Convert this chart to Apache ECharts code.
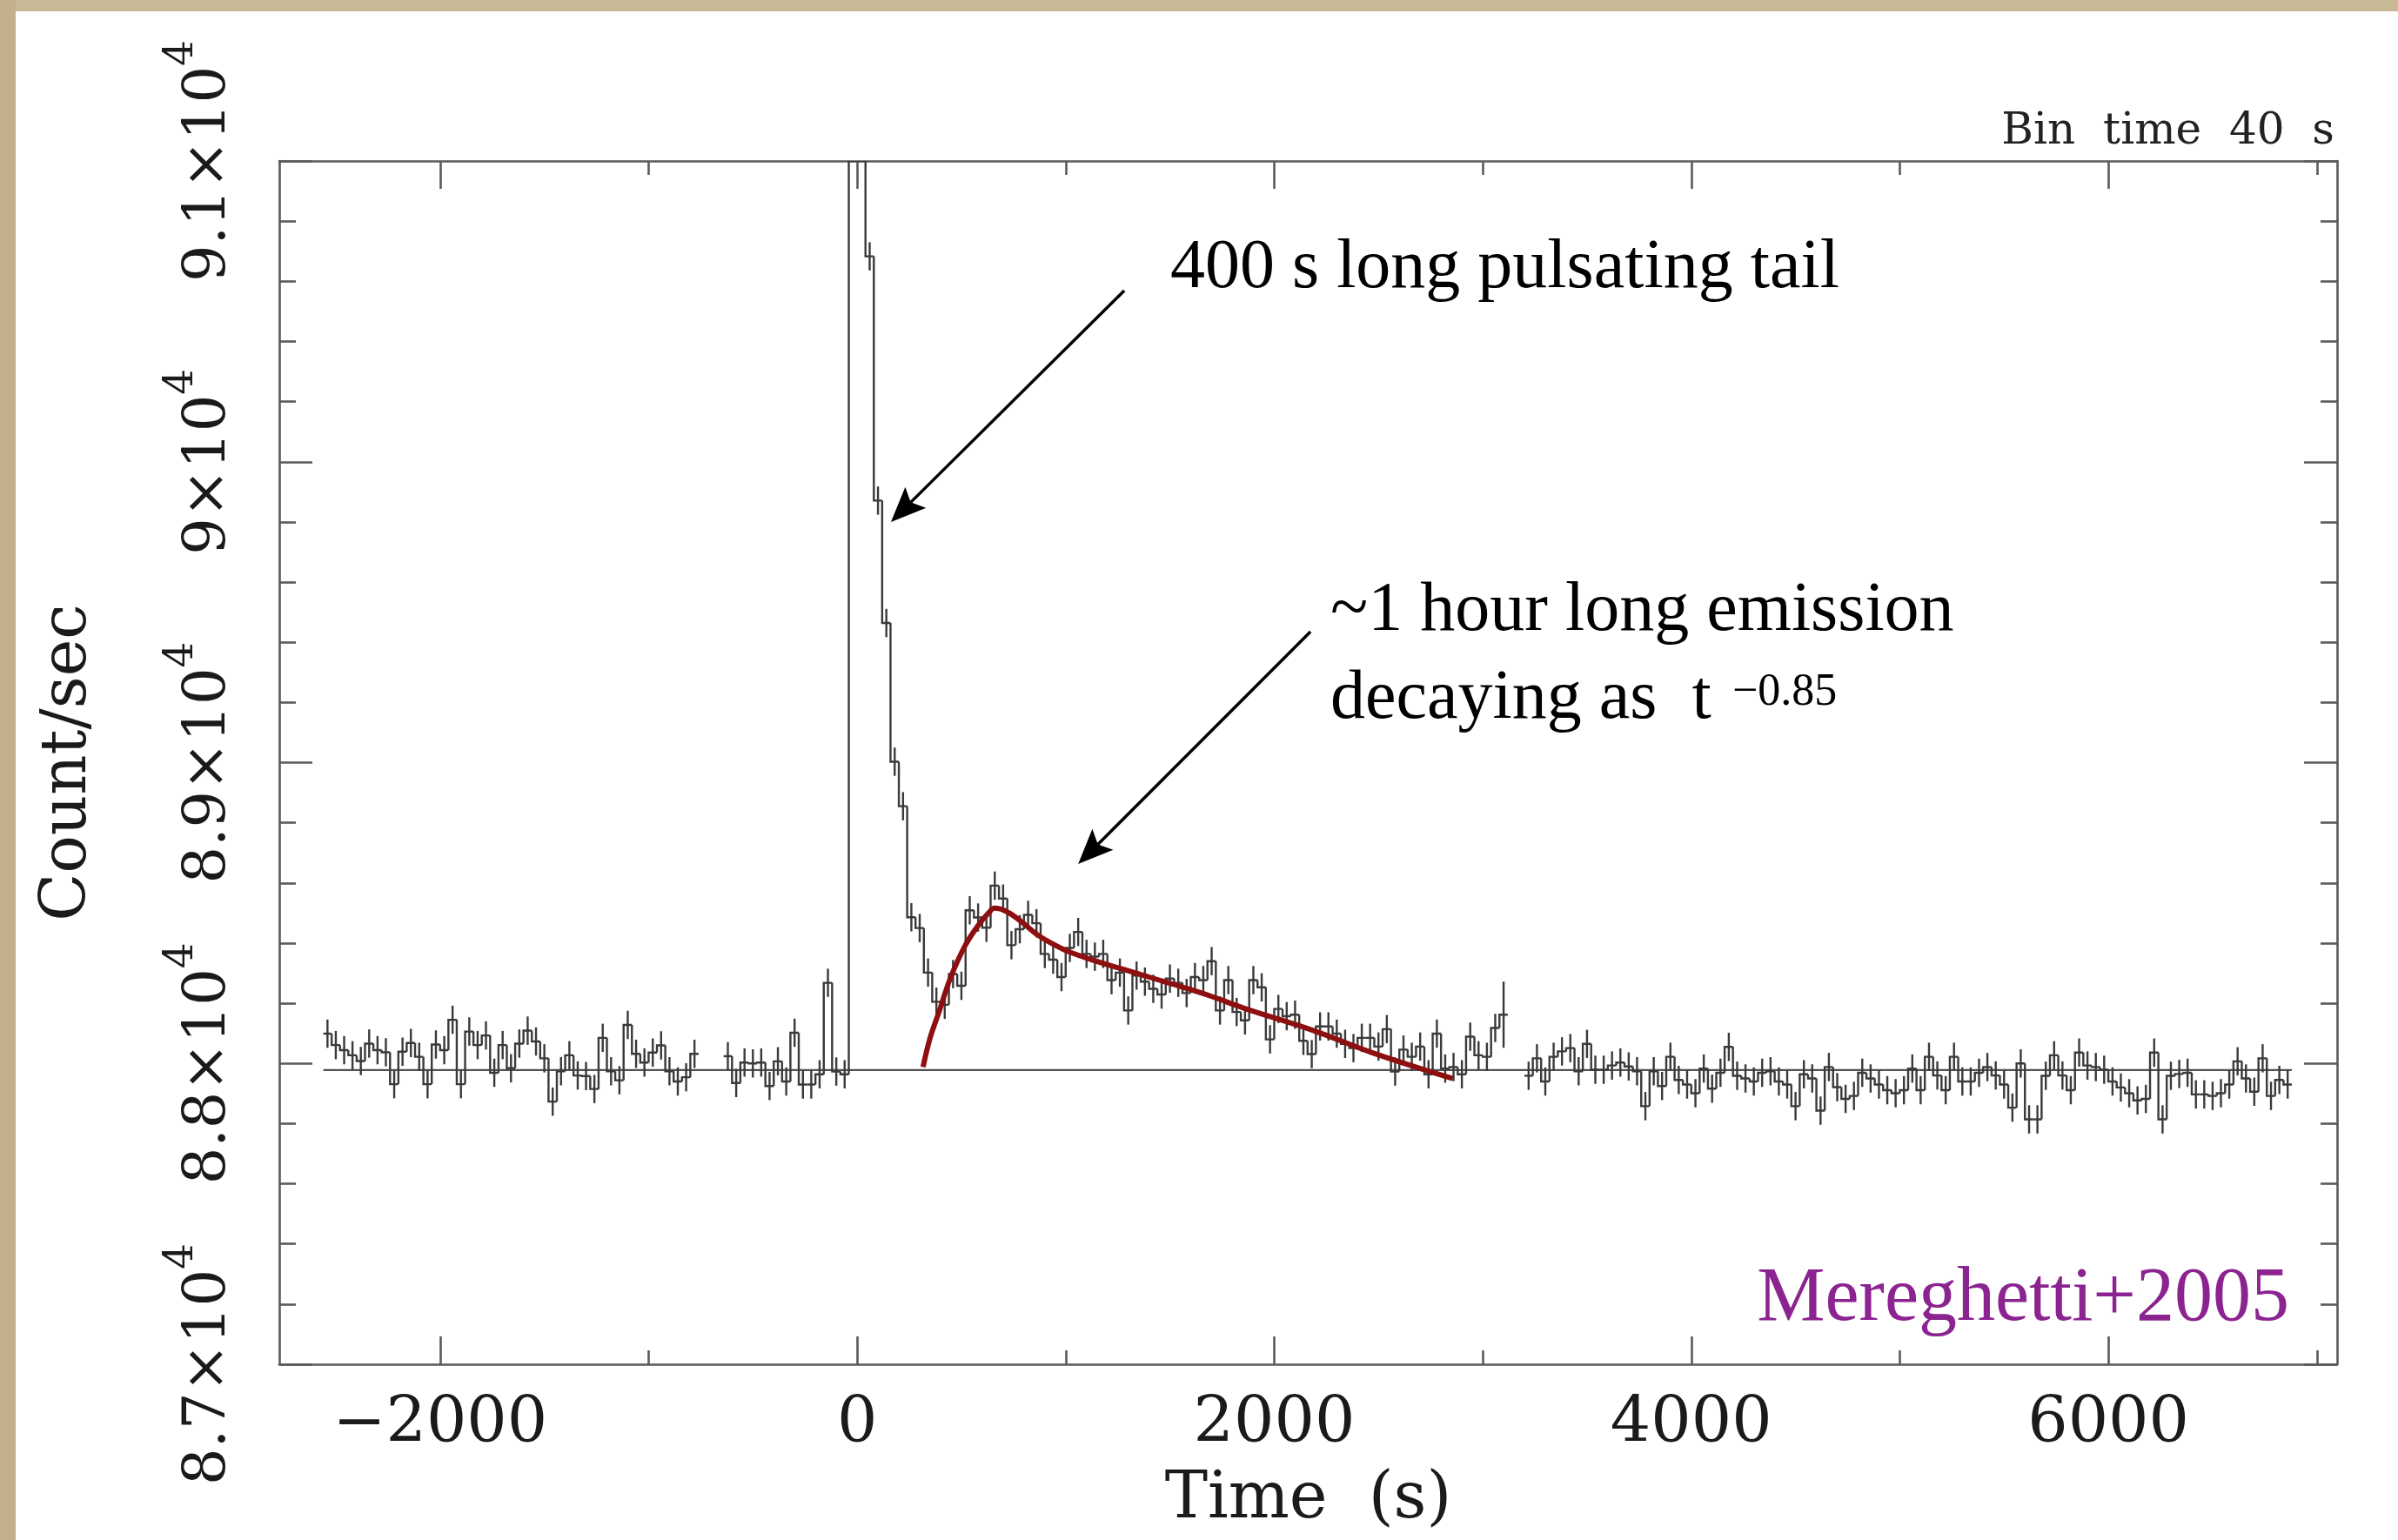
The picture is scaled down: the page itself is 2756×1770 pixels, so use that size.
<!DOCTYPE html>
<html><head><meta charset="utf-8">
<script src="https://cdn.jsdelivr.net/npm/echarts@6/dist/echarts.min.js"></script>
<style>html,body{margin:0;padding:0;background:#fff;}#chart{width:2756px;height:1770px;}</style>
</head><body><div id="chart"></div>
<script>
// ---------------- data ----------------
const binWidth = 40;          // s
const binErr = 47;            // typical 1-sigma error, count/s

// segment A (before burst), bins start at -2560 s
const segAStart = -2560;
const segAValues = [88099, 88061, 88044, 88027, 88008, 88066, 88044, 88037, 87931, 88039,
  88068, 88022, 87931, 88063, 88044, 88145, 87931, 88106, 88061, 88093,
  87969, 88061, 87984, 88066, 88109, 88073, 88017, 87873, 87974, 88027,
  87960, 87958, 87915, 88085, 87974, 87944, 88128, 88032, 88003, 88036,
  88060, 87974, 87940, 87954, 88032];

// segment B + burst + decaying emission, bins start at -640 s
const segBStart = -640;
const segBValues = [88024, 87935, 88003, 88000, 88003, 87925, 88007, 87940, 88102, 87930,
  87930, 87964, 88268, 87973, 87964,
  120000, 91300, 90683, 89871, 89464, 89003, 88855, 88486, 88450, 88302,
  88205, 88195, 88297, 88258, 88509, 88485, 88451, 88591, 88548, 88393,
  88446, 88494, 88466, 88364, 88345, 88287, 88384, 88437, 88364, 88355,
  88364, 88277, 88302, 88176, 88292, 88272, 88248, 88229, 88282, 88268,
  88234, 88287, 88277, 88340, 88176, 88277, 88171, 88143, 88277, 88253,
  88080, 88181, 88157, 88162, 88075, 88031, 88123, 88123, 88099, 88065,
  88051, 88085, 88085, 88056, 88114, 87973, 88046, 88022, 88056, 87964,
  88099, 87983, 87988, 87964, 88089, 88027, 88022, 88118, 88162];
const segBErrors = {0: 300, 3080: 110};

// segment D (after data gap), bins start at 3200 s
const segDStart = 3200;
const segDValues = [87959, 88017, 87940, 88022, 88040, 88051, 87974, 88065, 87979, 87979,
  87993, 88003, 87990, 87974, 87858, 87974, 87925, 88022, 87945, 87930,
  87901, 87983, 87916, 87969, 88055, 87959, 87950, 87940, 87969, 87974,
  87940, 87930, 87858, 87964, 87950, 87843, 87988, 87921, 87882, 87892,
  87969, 87950, 87930, 87911, 87901, 87911, 87983, 87911, 88022, 87960,
  87911, 88022, 87940, 87940, 87969, 87988, 87960, 87930, 87853, 88000,
  87814, 87814, 87959, 88027, 87960, 87911, 88036, 87993, 87988, 87979,
  87940, 87920, 87901, 87877, 87882, 88036, 87814, 87959, 87965, 87969,
  87897, 87897, 87892, 87901, 87930, 88007, 87950, 87906, 88017, 87892,
  87945, 87930];

// mean count-rate level
const meanLevel = 87978;
const meanRange = [-2560, 6880];

// t^-0.85 decay fit
const fitTimes  = [316, 350, 393, 449, 519, 588, 630, 658, 686, 741, 797, 866, 936, 1006, 1146, 1285, 1424, 1564, 1703, 1850, 2190, 2469, 2856];
const fitValues = [87988, 88085, 88172, 88287, 88393, 88466, 88500, 88516, 88514, 88495, 88466, 88427, 88398, 88374, 88340, 88311, 88282, 88253, 88222, 88185, 88109, 88036, 87950];

// axes
const xRange = [-2771, 7097];
const yRange = [87000, 91000];
const xMajorTicks = [-2000, 0, 2000, 4000, 6000];
const xTickLabels = ['\u22122000', '0', '2000', '4000', '6000'];
const xMinorTicks = [-1000, 1000, 3000, 5000, 7000];
const yMajorTicks = [87000, 88000, 89000, 90000, 91000];
const yTickMantissa = ['8.7', '8.8', '8.9', '9', '9.1'];
const yMinorTicks = [87200, 87400, 87600, 87800, 88200, 88400, 88600, 88800, 89200, 89400, 89600, 89800, 90200, 90400, 90600, 90800];

// annotation arrows [fromTime, fromRate, toTime, toRate]
const arrows = [[1281, 90569, 162, 89800], [2174, 89435, 1060, 88663]];

// ---------------- chart ----------------
function buildBins(start, values, errs) {
  return values.map((v, i) => {
    const t = start + i * binWidth;
    const prev = i > 0 ? values[i - 1] : '-';
    const e = (errs && errs[t] !== undefined) ? errs[t] : binErr;
    return [t, v, prev, e, t + binWidth];
  });
}
const binData = [].concat(
  buildBins(segAStart, segAValues),
  buildBins(segBStart, segBValues, segBErrors),
  buildBins(segDStart, segDValues)
);

const frameColor = '#5a5a5a';
const curveColor = '#3a3a3a';
const serif = 'DejaVu Serif';

function renderBin(params, api) {
  const cs = params.coordSys;
  const top = cs.y, bot = cs.y + cs.height;
  const clampY = p => [p[0], Math.max(top, Math.min(bot, p[1]))];
  const t0 = api.value(0), v = api.value(1), prev = api.value(2), err = api.value(3), t1 = api.value(4);
  const pts = [];
  if (!isNaN(prev)) pts.push(clampY(api.coord([t0, prev])));
  pts.push(clampY(api.coord([t0, v])), clampY(api.coord([t1, v])));
  const tc = (t0 + t1) / 2;
  const a = clampY(api.coord([tc, v + err])), b = clampY(api.coord([tc, v - err]));
  return {
    type: 'group',
    children: [
      {type: 'polyline', shape: {points: pts}, style: {stroke: curveColor, lineWidth: 2.4, fill: null}},
      {type: 'line', shape: {x1: a[0], y1: a[1], x2: b[0], y2: b[1]}, style: {stroke: curveColor, lineWidth: 2.4}}
    ]
  };
}

function xAxisCfg(pos, ticks, len, showLine, labels) {
  return {
    type: 'value', position: pos, min: xRange[0], max: xRange[1],
    axisLine: {show: showLine, onZero: false, lineStyle: {color: frameColor, width: 2.6}},
    splitLine: {show: false},
    axisTick: {show: true, inside: true, length: len, customValues: ticks, lineStyle: {color: frameColor, width: 2.6}},
    axisLabel: labels ? {
      show: true, customValues: ticks, margin: 34, color: '#1a1a1a', fontFamily: serif, fontSize: 73,
      formatter: v => xTickLabels[xMajorTicks.indexOf(v)]
    } : {show: false}
  };
}
function yAxisCfg(pos, ticks, len, showLine, labels) {
  return {
    type: 'value', position: pos, min: yRange[0], max: yRange[1],
    axisLine: {show: showLine, onZero: false, lineStyle: {color: frameColor, width: 2.6}},
    splitLine: {show: false},
    axisTick: {show: true, inside: true, length: len, customValues: ticks, lineStyle: {color: frameColor, width: 2.6}},
    axisLabel: labels ? {
      show: true, customValues: ticks, rotate: 90, margin: 24, color: '#1a1a1a',
      formatter: v => '{m|' + yTickMantissa[yMajorTicks.indexOf(v)] + '\u00d710}{s|4}',
      rich: {
        m: {fontFamily: serif, fontSize: 67, lineHeight: 112, color: '#1a1a1a'},
        s: {fontFamily: serif, fontSize: 47, lineHeight: 46, verticalAlign: 'top', color: '#1a1a1a'}
      }
    } : {show: false}
  };
}

const xAxes = [
  xAxisCfg('bottom', xMajorTicks, 32, true, true),
  xAxisCfg('bottom', xMinorTicks, 16, false, false),
  xAxisCfg('top', xMajorTicks, 32, true, false),
  xAxisCfg('top', xMinorTicks, 16, false, false)
];
Object.assign(xAxes[0], {name: 'Time  (s)', nameLocation: 'middle', nameGap: 120,
  nameTextStyle: {fontFamily: serif, fontSize: 74, color: '#1a1a1a'}});
const yAxes = [
  yAxisCfg('left', yMajorTicks, 38, true, true),
  yAxisCfg('left', yMinorTicks, 19, false, false),
  yAxisCfg('right', yMajorTicks, 38, true, false),
  yAxisCfg('right', yMinorTicks, 19, false, false)
];
Object.assign(yAxes[0], {name: 'Count/sec', nameLocation: 'middle', nameRotate: 90, nameGap: 206,
  nameTextStyle: {fontFamily: serif, fontSize: 72, color: '#1a1a1a'}});

const chart = echarts.init(document.getElementById('chart'), null, {renderer: 'canvas'});
const option = {
  animation: false,
  backgroundColor: '#ffffff',
  grid: {left: 321, right: 70, top: 185, bottom: 202, containLabel: false, outerBoundsMode: 'none'},
  xAxis: xAxes,
  yAxis: yAxes,
  series: [
    {
      type: 'line', name: 'mean', xAxisIndex: 0, yAxisIndex: 0, showSymbol: false, silent: true,
      data: [[meanRange[0], meanLevel], [meanRange[1], meanLevel]],
      lineStyle: {color: '#505050', width: 2.4}, z: 2
    },
    {
      type: 'custom', name: 'light curve', xAxisIndex: 0, yAxisIndex: 0, clip: true,
      renderItem: renderBin, data: binData, z: 3, silent: true
    },
    {
      type: 'line', name: 'fit', xAxisIndex: 0, yAxisIndex: 0, showSymbol: false, smooth: 0.4, silent: true,
      data: fitTimes.map((t, i) => [t, fitValues[i]]),
      lineStyle: {color: '#8e0f0f', width: 6}, z: 4
    }
  ],
  graphic: [
    {type: 'rect', shape: {x: 0, y: 0, width: 2756, height: 13}, style: {fill: '#c9b996'}, z: 100},
    {type: 'rect', shape: {x: 0, y: 0, width: 18, height: 1770}, style: {fill: '#c2b08c'}, z: 100},
    {type: 'text', x: 2683, y: 152, style: {text: 'Bin  time  40  s', font: '50px "DejaVu Serif"', fill: '#222', align: 'right', verticalAlign: 'middle'}, z: 50},
    {type: 'text', x: 1345, y: 309, style: {text: '400 s long pulsating tail', font: '80px "Liberation Serif"', fill: '#000', align: 'left', verticalAlign: 'middle'}, z: 50},
    {type: 'text', x: 1529, y: 703, style: {text: '~1 hour long emission', font: '80px "Liberation Serif"', fill: '#000', align: 'left', verticalAlign: 'middle'}, z: 50},
    {type: 'text', x: 1529, y: 804, style: {text: 'decaying as  t', font: '80px "Liberation Serif"', fill: '#000', align: 'left', verticalAlign: 'middle'}, z: 50},
    {type: 'text', x: 1991, y: 796, style: {text: '\u22120.85', font: '52px "Liberation Serif"', fill: '#000', align: 'left', verticalAlign: 'middle'}, z: 50},
    {type: 'text', x: 2631, y: 1494, style: {text: 'Mereghetti+2005', font: '88px "Liberation Serif"', fill: '#8b2390', align: 'right', verticalAlign: 'middle'}, z: 50}
  ]
};
chart.setOption(option);

// arrows drawn in data coordinates
const arrowGraphics = [];
arrows.forEach(a => {
  const p0 = chart.convertToPixel({xAxisIndex: 0, yAxisIndex: 0}, [a[0], a[1]]);
  const p1 = chart.convertToPixel({xAxisIndex: 0, yAxisIndex: 0}, [a[2], a[3]]);
  const dx = p1[0] - p0[0], dy = p1[1] - p0[1];
  const L = Math.hypot(dx, dy), ux = dx / L, uy = dy / L, nx = -uy, ny = ux;
  const headLen = 40, halfW = 17, notch = 8;
  const bx = p1[0] - ux * headLen, by = p1[1] - uy * headLen;
  arrowGraphics.push({type: 'line', shape: {x1: p0[0], y1: p0[1], x2: bx + ux * notch, y2: by + uy * notch}, style: {stroke: '#000', lineWidth: 3.5}, z: 60});
  arrowGraphics.push({type: 'polygon', shape: {points: [
    [p1[0], p1[1]], [bx + nx * halfW, by + ny * halfW], [bx + ux * notch, by + uy * notch], [bx - nx * halfW, by - ny * halfW]
  ]}, style: {fill: '#000'}, z: 60});
});
chart.setOption({graphic: option.graphic.concat(arrowGraphics)});
</script></body></html>
